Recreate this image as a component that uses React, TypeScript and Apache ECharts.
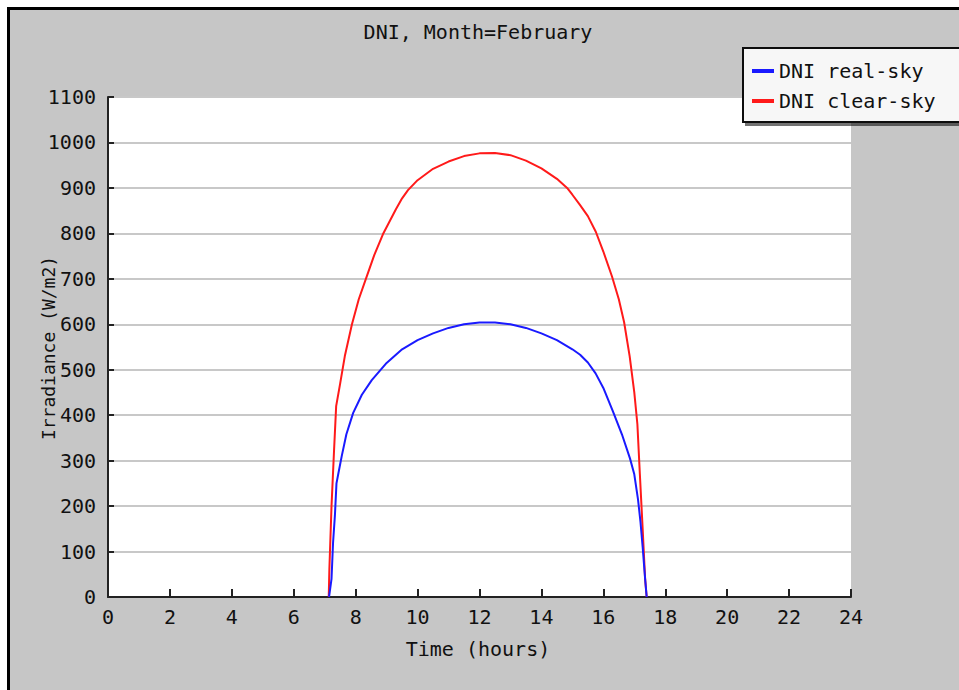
import React, { useEffect, useRef } from "react";
import * as echarts from "echarts";

const titleText = "DNI, Month=February";
const xAxisName = "Time (hours)";
const yAxisName = "Irradiance (W/m2)";
const seriesNames = ["DNI real-sky", "DNI clear-sky"];

const realSkyHours = [7.14, 7.22, 7.27, 7.33, 7.38, 7.45, 7.55, 7.7, 7.92, 8.2, 8.52, 9.0, 9.5, 10.0, 10.5, 11.0, 11.5, 12.0, 12.5, 13.0, 13.5, 14.0, 14.5, 15.0, 15.25, 15.5, 15.75, 16.0, 16.3, 16.6, 16.86, 17.0, 17.12, 17.2, 17.27, 17.35, 17.4];
const realSkyValues = [0, 40, 120, 180, 250, 275, 310, 358, 405, 445, 477, 515, 545, 565, 580, 592, 600, 604, 604, 600, 592, 580, 565, 545, 533, 516, 492, 460, 410, 358, 305, 270, 215, 165, 110, 40, 0];

const clearSkyHours = [7.13, 7.15, 7.22, 7.3, 7.37, 7.5, 7.65, 7.88, 8.1, 8.33, 8.6, 8.88, 9.3, 9.5, 9.69, 10.0, 10.5, 11.0, 11.5, 12.0, 12.5, 13.0, 13.5, 14.0, 14.5, 14.83, 15.0, 15.25, 15.5, 15.76, 16.0, 16.28, 16.5, 16.67, 16.85, 17.0, 17.1, 17.18, 17.27, 17.35, 17.4];
const clearSkyValues = [0, 60, 200, 320, 420, 470, 530, 600, 655, 700, 752, 798, 853, 877, 895, 917, 942, 958, 970, 976, 977, 972, 960, 943, 920, 900, 885, 862, 838, 803, 760, 705, 655, 605, 530, 450, 380, 270, 150, 40, 0];

const FONT = "'DejaVu Sans Mono', monospace";

export default function App() {
  const ref = useRef<HTMLDivElement>(null);
  useEffect(() => {
    document.body.style.margin = "0";
    const chart = echarts.init(ref.current!, undefined, { renderer: "svg" });
    const real = realSkyHours.map((h, i) => [h, realSkyValues[i]]);
    const clear = clearSkyHours.map((h, i) => [h, clearSkyValues[i]]);
    chart.setOption({
      animation: false,
      backgroundColor: "#ffffff",
      textStyle: { fontFamily: FONT },
      graphic: [
        {
          type: "rect",
          z: -10,
          silent: true,
          shape: { x: 8.5, y: 8.5, width: 980, height: 720 },
          style: { fill: "#c6c6c6", stroke: "#000000", lineWidth: 3 },
        },
        {
          type: "text",
          x: 478,
          y: 32,
          style: {
            text: titleText,
            font: `20px ${FONT}`,
            fill: "#111111",
            align: "center",
            verticalAlign: "middle",
          },
        },
        {
          type: "text",
          x: 478,
          y: 649,
          style: {
            text: xAxisName,
            font: `20px ${FONT}`,
            fill: "#111111",
            align: "center",
            verticalAlign: "middle",
          },
        },
        {
          type: "text",
          x: 48,
          y: 348,
          rotation: Math.PI / 2,
          style: {
            text: yAxisName,
            font: `18px ${FONT}`,
            fill: "#111111",
            align: "center",
            verticalAlign: "middle",
          },
        },
      ],
      legend: {
        orient: "vertical",
        left: 743,
        top: 48,
        data: seriesNames,
        icon: "rect",
        itemWidth: 22,
        itemHeight: 4,
        itemGap: 10,
        padding: [13, 40, 11, 9],
        backgroundColor: "#f7f7f7",
        borderColor: "#111111",
        borderWidth: 2,
        shadowColor: "rgba(0,0,0,0.55)",
        shadowOffsetX: 3,
        shadowOffsetY: 3,
        shadowBlur: 0,
        textStyle: { fontFamily: FONT, fontSize: 20, color: "#111111" },
      },
      grid: {
        left: 108,
        right: 108,
        top: 97,
        bottom: 93,
        show: true,
        backgroundColor: "#ffffff",
        borderWidth: 0,
        containLabel: false,
      },
      xAxis: {
        type: "value",
        min: 0,
        max: 24,
        interval: 2,
        axisLine: { show: true, lineStyle: { color: "#222222", width: 2 } },
        axisTick: { show: true, inside: true, length: 8, lineStyle: { color: "#222222", width: 2 } },
        splitLine: { show: false },
        axisLabel: { fontFamily: FONT, fontSize: 20, color: "#111111", margin: 10, formatter: (v: number) => String(v) },
      },
      yAxis: {
        type: "value",
        min: 0,
        max: 1100,
        interval: 100,
        axisLine: { show: true, lineStyle: { color: "#222222", width: 2 } },
        axisTick: { show: true, inside: true, length: 6, lineStyle: { color: "#222222", width: 2 } },
        splitLine: { show: true, lineStyle: { color: "#c8c8c8", width: 2 } },
        axisLabel: { fontFamily: FONT, fontSize: 20, color: "#111111", margin: 12, formatter: (v: number) => String(v) },
      },
      series: [
        {
          name: seriesNames[0],
          type: "line",
          data: real,
          showSymbol: false,
          z: 4,
          itemStyle: { color: "#1a1aff" },
          lineStyle: { color: "#1a1aff", width: 2 },
        },
        {
          name: seriesNames[1],
          type: "line",
          data: clear,
          showSymbol: false,
          z: 3,
          itemStyle: { color: "#ff1a1a" },
          lineStyle: { color: "#ff1a1a", width: 2 },
        },
      ],
    });
    return () => chart.dispose();
  }, []);
  return (
    <div
      ref={ref}
      style={{ position: "fixed", left: 0, top: 0, width: 959, height: 690 }}
    />
  );
}
